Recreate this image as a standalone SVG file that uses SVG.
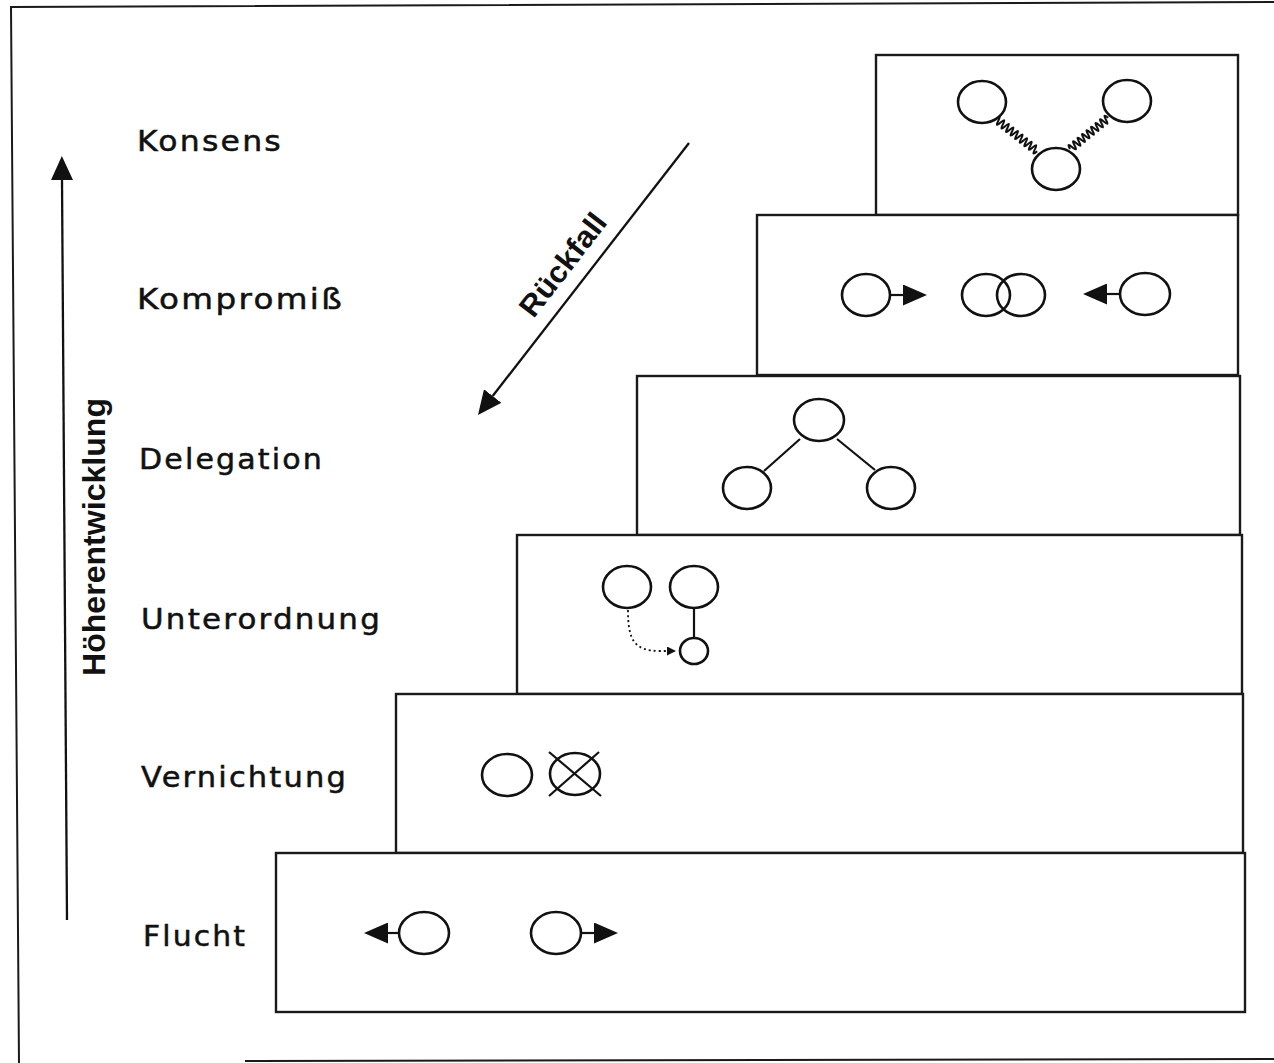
<svg xmlns="http://www.w3.org/2000/svg" width="1274" height="1063" viewBox="0 0 1274 1063">
  <defs>
    <style>
      .frame { fill: none; stroke: #1a1a1a; stroke-width: 2; }
      .step { fill: #fff; stroke: #1a1a1a; stroke-width: 2.4; }
      .label { font-family: "DejaVu Sans", "Liberation Sans", sans-serif; font-size: 28px; letter-spacing: 2px; fill: #111; stroke: #111; stroke-width: 0.5; }
      .axis-label { font-family: "Liberation Sans", Arial, sans-serif; font-weight: bold; fill: #111; }
      .c { fill: #fff; stroke: #111; stroke-width: 2.6; }
      .ring { fill: none; stroke: #111; stroke-width: 2.6; }
      .ln { fill: none; stroke: #111; stroke-width: 2.2; }
      .wave { fill: none; stroke: #111; stroke-width: 2; }
      .dots { fill: none; stroke: #111; stroke-width: 1.8; stroke-dasharray: 2 3; }
      .conn { fill: none; stroke: #111; stroke-width: 2.3; }
    </style>
    <marker id="head" viewBox="0 0 24 22" refX="0" refY="11" markerWidth="24" markerHeight="22" markerUnits="userSpaceOnUse" orient="auto">
      <path d="M0,0 L24,11 L0,22 z" fill="#111"/>
    </marker>
    <marker id="head-s" viewBox="0 0 24 21" refX="0" refY="10.5" markerWidth="24" markerHeight="21" markerUnits="userSpaceOnUse" orient="auto">
      <path d="M0,0 L24,10.5 L0,21 z" fill="#111"/>
    </marker>
    <marker id="head-xs" viewBox="0 0 9 9" refX="0" refY="4.5" markerWidth="9" markerHeight="9" markerUnits="userSpaceOnUse" orient="auto">
      <path d="M0,0 L9,4.5 L0,9 z" fill="#111"/>
    </marker>
  </defs>

  <rect width="1274" height="1063" fill="#fff"/>

  <!-- outer frame -->
  <path class="frame" d="M1274 2 L11 7 L19 1063"/>
  <path class="frame" d="M245 1061 L1274 1059"/>

  <!-- Konsens -->
  <g id="step-konsens">
    <rect class="step" x="876" y="55" width="362" height="160"/>
    <text class="label" x="137" y="151" textLength="146" lengthAdjust="spacingAndGlyphs">Konsens</text>
    <path class="wave" transform="translate(996,119) rotate(38)" d="M0 0 q1.45 -8 2.9 0 t2.9 0 t2.9 0 t2.9 0 t2.9 0 t2.9 0 t2.9 0 t2.9 0 t2.9 0 t2.9 0 t2.9 0 t2.9 0 t2.9 0 t2.9 0 t2.9 0 t2.9 0 t2.9 0 t2.9 0"/>
    <path class="wave" transform="translate(1070,149) rotate(-39.2)" d="M0 0 q1.45 -8 2.9 0 t2.9 0 t2.9 0 t2.9 0 t2.9 0 t2.9 0 t2.9 0 t2.9 0 t2.9 0 t2.9 0 t2.9 0 t2.9 0 t2.9 0 t2.9 0 t2.9 0 t2.9 0 t2.9 0"/>
    <ellipse class="c" cx="982" cy="102" rx="24" ry="21"/>
    <ellipse class="c" cx="1127" cy="101" rx="24" ry="21"/>
    <ellipse class="c" cx="1056" cy="169" rx="24" ry="21"/>
  </g>

  <!-- Kompromiß -->
  <g id="step-kompromiss">
    <rect class="step" x="757" y="215" width="481" height="160"/>
    <text class="label" x="137" y="309" textLength="207" lengthAdjust="spacingAndGlyphs">Kompromiß</text>
    <ellipse class="c" cx="866" cy="295" rx="24" ry="21"/>
    <line class="ln" x1="890" y1="295" x2="903" y2="295" marker-end="url(#head-s)"/>
    <ellipse class="ring" cx="986" cy="295" rx="24" ry="21"/>
    <ellipse class="ring" cx="1021" cy="295" rx="24" ry="21"/>
    <line class="ln" x1="1120" y1="294" x2="1107" y2="294" marker-end="url(#head-s)"/>
    <ellipse class="c" cx="1145" cy="294" rx="25" ry="21"/>
  </g>

  <!-- Delegation -->
  <g id="step-delegation">
    <rect class="step" x="637" y="376" width="603" height="159"/>
    <text class="label" x="139" y="469" textLength="185" lengthAdjust="spacingAndGlyphs">Delegation</text>
    <line class="ln" x1="800" y1="439" x2="764" y2="471"/>
    <line class="ln" x1="837" y1="439" x2="875" y2="470"/>
    <ellipse class="c" cx="819" cy="420" rx="25" ry="21"/>
    <ellipse class="c" cx="747" cy="488" rx="24" ry="21"/>
    <ellipse class="c" cx="891" cy="488" rx="24" ry="21"/>
  </g>

  <!-- Unterordnung -->
  <g id="step-unterordnung">
    <rect class="step" x="517" y="535" width="725" height="159"/>
    <text class="label" x="141" y="629" textLength="241" lengthAdjust="spacingAndGlyphs">Unterordnung</text>
    <line class="ln" x1="694" y1="607" x2="694" y2="637"/>
    <path class="dots" d="M628 610 C628 640 634 651 660 651 L667 651" marker-end="url(#head-xs)"/>
    <ellipse class="c" cx="627" cy="587" rx="24" ry="21"/>
    <ellipse class="c" cx="694" cy="587" rx="24" ry="21"/>
    <ellipse class="c" cx="694" cy="651" rx="14" ry="13"/>
  </g>

  <!-- Vernichtung -->
  <g id="step-vernichtung">
    <rect class="step" x="396" y="694" width="847" height="159"/>
    <text class="label" x="141" y="787" textLength="207" lengthAdjust="spacingAndGlyphs">Vernichtung</text>
    <ellipse class="c" cx="507" cy="775" rx="25" ry="21"/>
    <ellipse class="c" cx="575" cy="774" rx="25" ry="21"/>
    <line class="ln" x1="549" y1="752" x2="601" y2="796"/>
    <line class="ln" x1="599" y1="752" x2="549" y2="796"/>
  </g>

  <!-- Flucht -->
  <g id="step-flucht">
    <rect class="step" x="276" y="853" width="969" height="159"/>
    <text class="label" x="143" y="946" textLength="104" lengthAdjust="spacingAndGlyphs">Flucht</text>
    <line class="ln" x1="399" y1="933" x2="388" y2="933" marker-end="url(#head-s)"/>
    <ellipse class="c" cx="424" cy="933" rx="25" ry="21"/>
    <ellipse class="c" cx="556" cy="933" rx="25" ry="21"/>
    <line class="ln" x1="581" y1="933" x2="594" y2="933" marker-end="url(#head-s)"/>
  </g>

  <!-- direction arrows -->
  <g id="connectors">
    <line class="conn" x1="67" y1="920" x2="62" y2="180" marker-end="url(#head)"/>
    <text class="axis-label" font-size="31" transform="translate(105,676) rotate(-90)" textLength="278" lengthAdjust="spacingAndGlyphs">Höherentwicklung</text>
    <line class="conn" x1="689" y1="143" x2="492.7" y2="396" marker-end="url(#head)"/>
    <text class="axis-label" font-size="30" text-anchor="middle" transform="translate(571,271) rotate(-52.2)" textLength="122" lengthAdjust="spacingAndGlyphs">Rückfall</text>
  </g>
</svg>
